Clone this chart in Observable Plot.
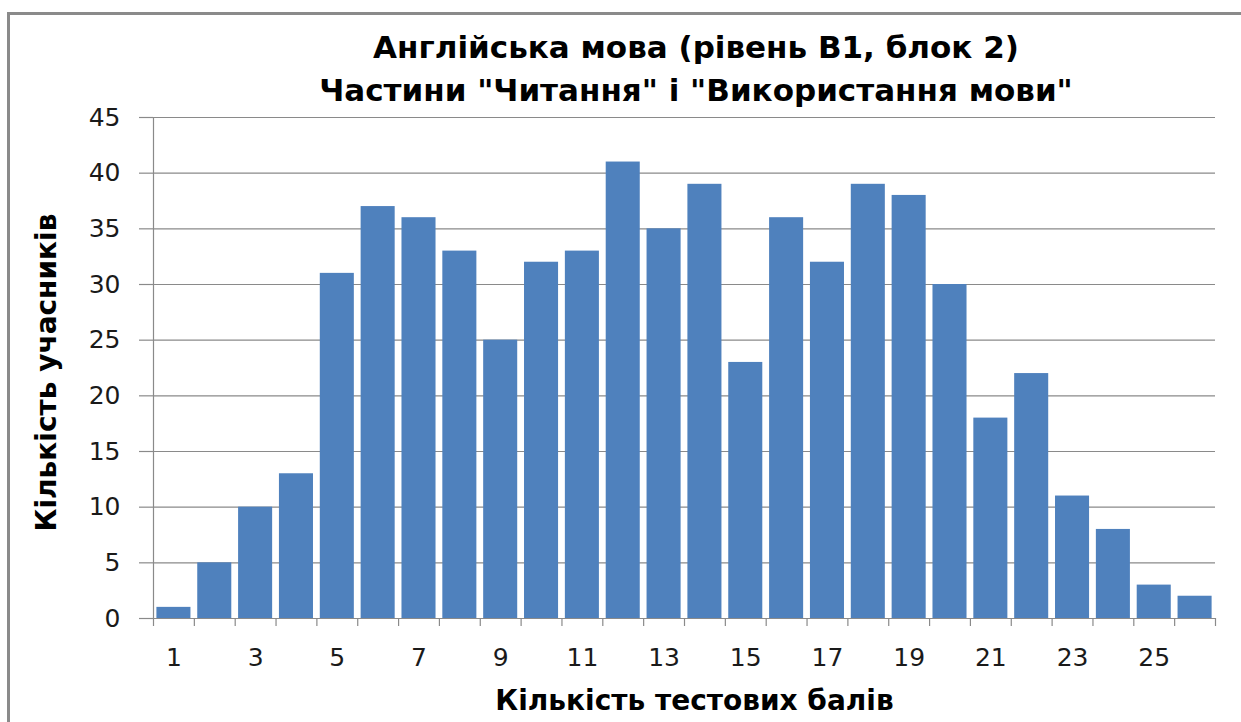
<!DOCTYPE html>
<html>
<head>
<meta charset="utf-8">
<script src="https://cdn.jsdelivr.net/npm/d3@7"></script>
<script src="https://cdn.jsdelivr.net/npm/@observablehq/plot@0.6"></script>
<style>
  html, body { margin: 0; padding: 0; background: #fff; }
  #wrap { position: relative; width: 1241px; height: 722px; overflow: hidden; background: #fff; }
  #frame { position: absolute; left: 7px; top: 12px; width: 1300px; height: 800px; border: 3px solid #8a8a8a; box-sizing: border-box; }
  .title { position: absolute; left: 196px; width: 1000px; text-align: center; font-family: "DejaVu Sans", sans-serif; font-weight: bold; font-size: 31px; color: #000; white-space: nowrap; line-height: 1; }
  #chart { position: absolute; left: 0; top: 0; }
</style>
</head>
<body>
<div id="wrap">
  <div id="frame"></div>
  <div id="chart"></div>
  <div class="title" style="top:32px">Англійська мова (рівень B1, блок 2)</div>
  <div class="title" style="top:75px">Частини "Читання" і "Використання мови"</div>
</div>
<script>
const scores = [1,2,3,4,5,6,7,8,9,10,11,12,13,14,15,16,17,18,19,20,21,22,23,24,25,26];
const counts = [1,5,10,13,31,37,36,33,25,32,33,41,35,39,23,36,32,39,38,30,18,22,11,8,3,2];
const xTickLabels = [1,3,5,7,9,11,13,15,17,19,21,23,25];
const yTicks = [0,5,10,15,20,25,30,35,40,45];
const xTitle = "Кількість тестових балів";
const yTitle = "Кількість учасників";

const data = scores.map((s, i) => ({score: s, count: counts[i]}));
const boundaries = [...scores.map(s => s - 0.5), scores[scores.length - 1] + 0.5];

const gray = "#8a8a8a";
const chart = Plot.plot({
  width: 1241,
  height: 722,
  marginLeft: 153,
  marginRight: 26,
  marginTop: 117,
  marginBottom: 104,
  style: {fontFamily: "DejaVu Sans, sans-serif", fontSize: "24px", color: "#1a1a1a", background: "transparent"},
  x: {type: "linear", domain: [boundaries[0], boundaries[boundaries.length - 1]]},
  y: {domain: [0, 45]},
  marks: [
    Plot.ruleY(yTicks, {stroke: gray, strokeWidth: 1.2}),
    Plot.rectY(data, {x1: d => d.score - 0.5, x2: d => d.score + 0.5, y: "count", fill: "#4f81bd", insetLeft: 3.4, insetRight: 3.4}),
    Plot.ruleX([boundaries[0]], {stroke: gray, strokeWidth: 1.2}),
    Plot.ruleY([0], {stroke: gray, strokeWidth: 1.2}),
    Plot.axisY(yTicks, {tickSize: 14, tickPadding: 19, stroke: gray, fontSize: 25, label: null, strokeWidth: 1.2}),
    Plot.axisX(boundaries, {tickSize: 8, tickFormat: () => "", stroke: gray, label: null, strokeWidth: 1.2}),
    Plot.axisX(xTickLabels, {tickSize: 0, tickPadding: 30, fontSize: 25, label: null}),
    Plot.text([yTitle], {frameAnchor: "left", dx: -106, dy: 4.5, rotate: -90, fontWeight: "bold", fontSize: 28, fill: "#000", textAnchor: "middle", lineAnchor: "middle"}),
    Plot.text([xTitle], {frameAnchor: "bottom", dx: 10, dy: 83, fontWeight: "bold", fontSize: 28, fill: "#000", textAnchor: "middle", lineAnchor: "middle"})
  ]
});
document.getElementById("chart").appendChild(chart);
</script>
</body>
</html>
